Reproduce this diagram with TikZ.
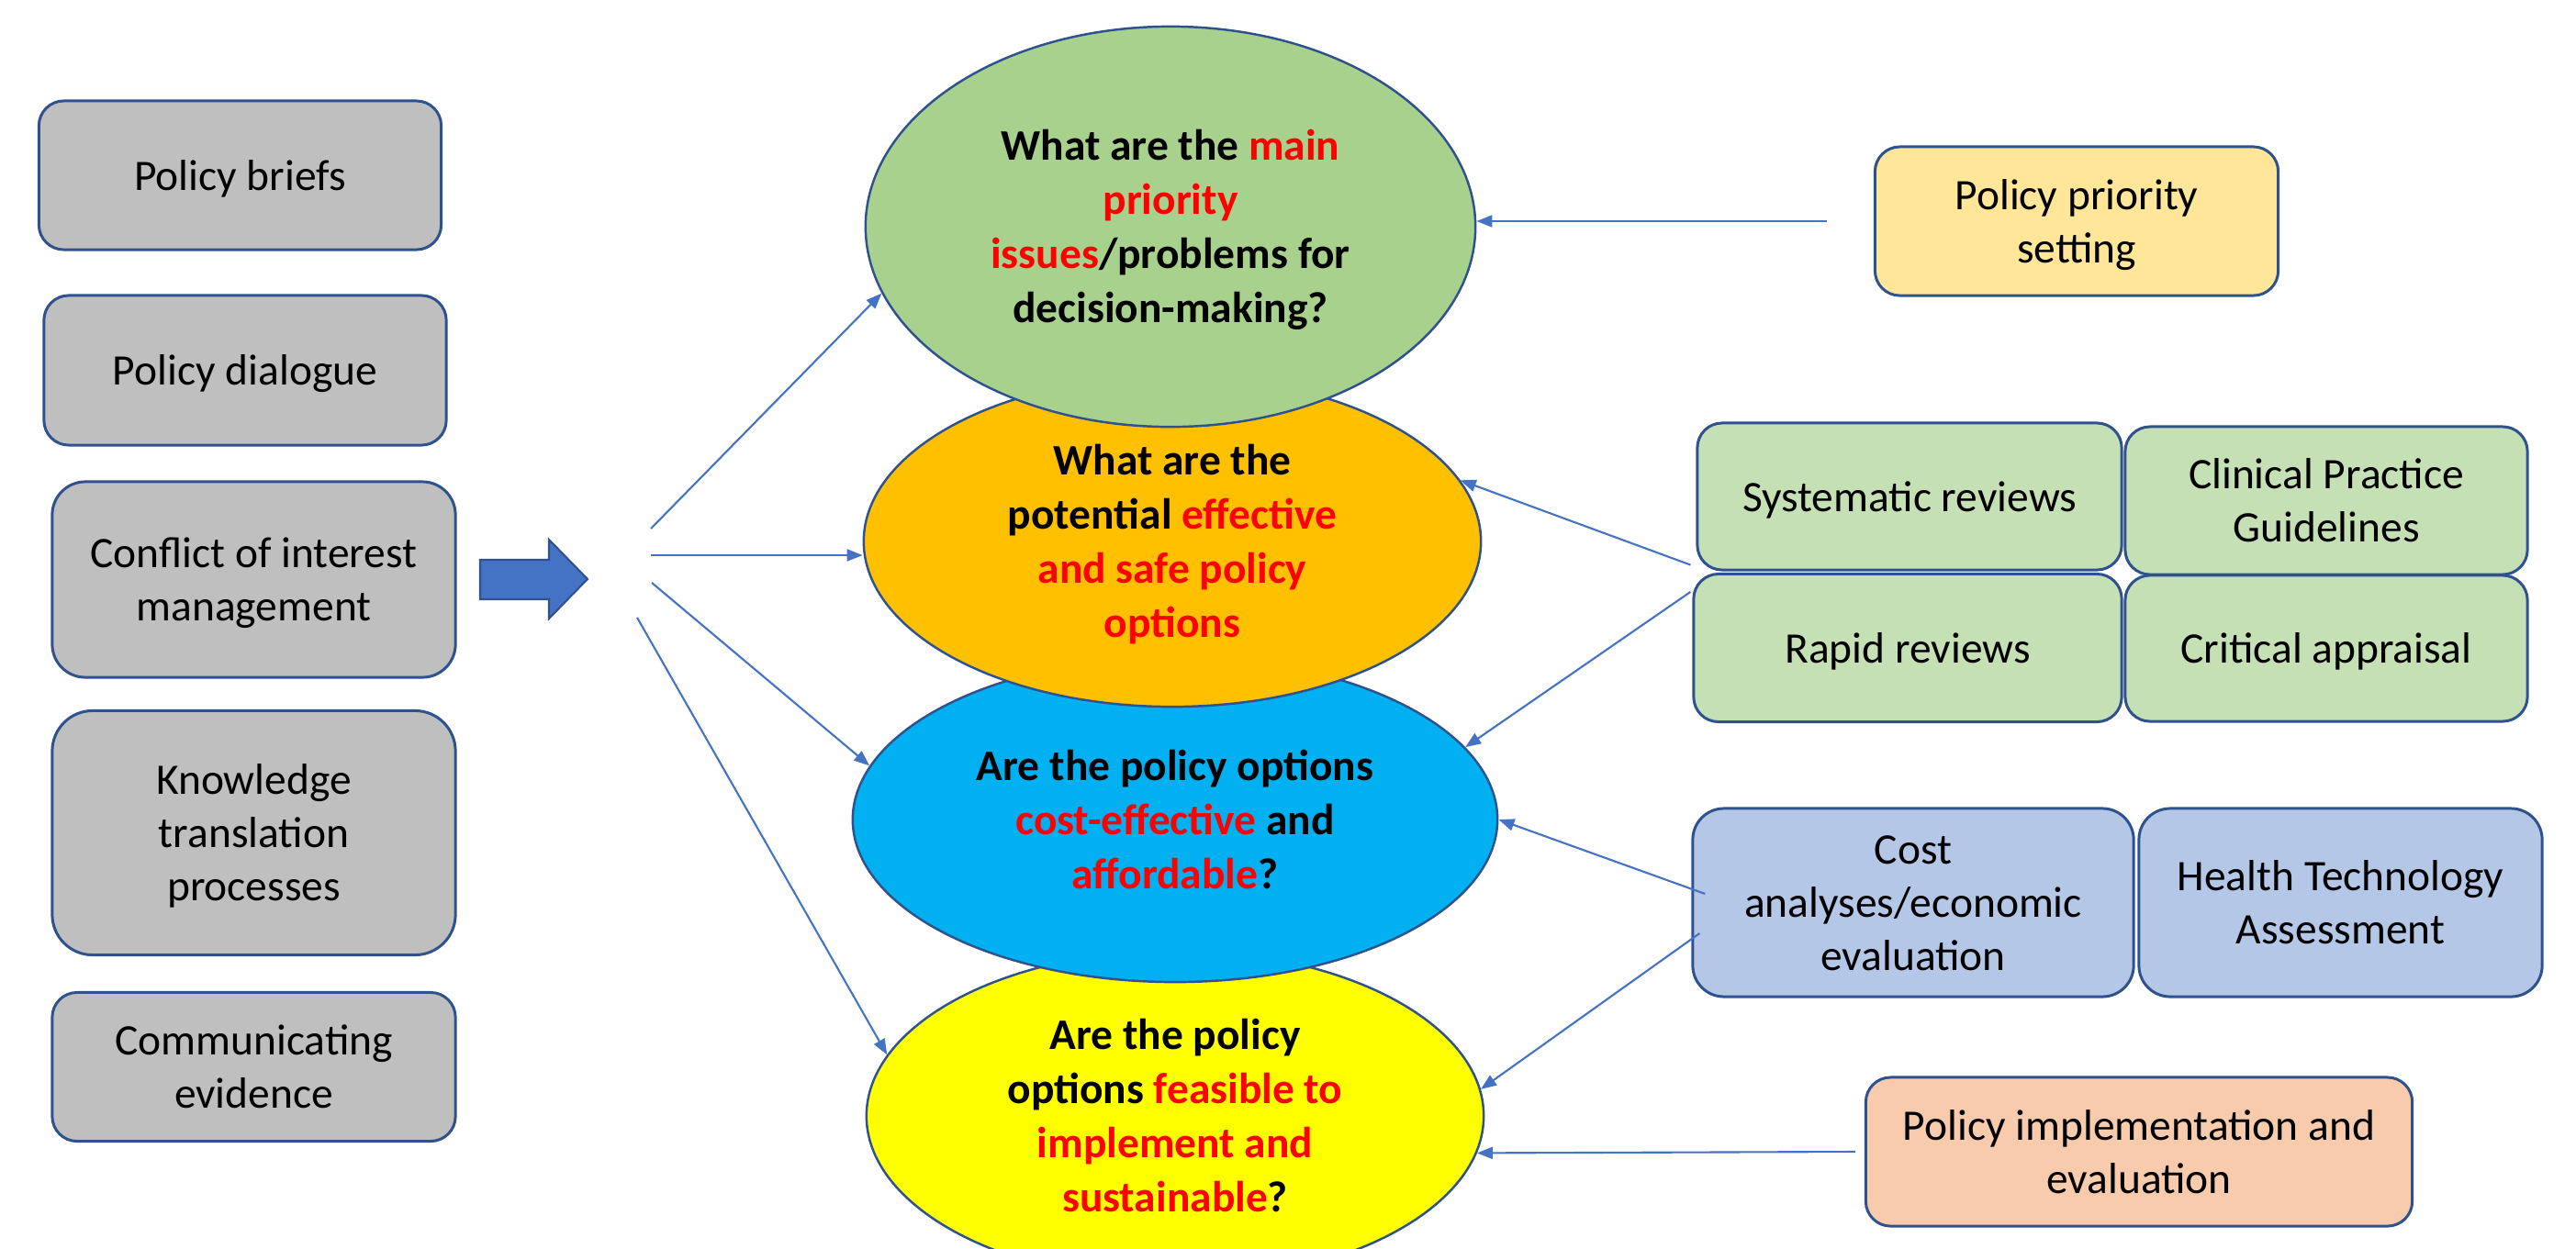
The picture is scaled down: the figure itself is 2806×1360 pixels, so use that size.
\documentclass[tikz,border=0pt]{standalone}
\usepackage{fontspec}
\setmainfont{Carlito}
\usetikzlibrary{arrows.meta,shapes.geometric,calc}
\definecolor{edgeblue}{HTML}{2F528F}
\definecolor{connblue}{HTML}{4472C4}
\definecolor{grayfill}{HTML}{BFBFBF}
\definecolor{qgreen}{HTML}{A9D18E}
\definecolor{qorange}{HTML}{FFC000}
\definecolor{qblue}{HTML}{00B0F0}
\definecolor{qyellow}{HTML}{FFFF00}
\definecolor{prioyellow}{HTML}{FFE699}
\definecolor{evgreen}{HTML}{C5E0B4}
\definecolor{evblue}{HTML}{B4C7E7}
\definecolor{implpeach}{HTML}{F8CBAD}
\definecolor{hired}{HTML}{FF0000}
\newcommand{\redtxt}[1]{\textcolor{hired}{#1}}
\newcommand{\strA}{\rule{0pt}{12.85pt}}
\newcommand{\strB}{\rule[-3.63pt]{0pt}{3.63pt}}
\begin{document}
\begin{tikzpicture}[x=0.01cm,y=-0.01cm,
  font=\fontsize{13.5}{16.5}\selectfont,
  box/.style={draw=edgeblue, line width=0.85pt, rounded corners=0.27cm, align=center, inner sep=0pt},
  quest/.style={ellipse, draw=edgeblue, line width=0.7pt, align=center, inner sep=0pt,
     font=\fontsize{13.5}{16.8}\selectfont\bfseries},
  arr/.style={draw=connblue, line width=0.6pt, -{Triangle[length=0.17cm,width=0.13cm]}}]
\useasboundingbox (0,0) rectangle (2806,1360);
\clip (0,0) rectangle (2806,1360);

% left boxes
\node[box, fill=grayfill, minimum width=4.38cm, minimum height=1.62cm] (pb) at (261.5,191) {\strA Policy briefs\strB};
\node[box, fill=grayfill, minimum width=4.38cm, minimum height=1.63cm] (pd) at (267,403.5) {\strA Policy dialogue\strB};
\node[box, fill=grayfill, minimum width=4.39cm, minimum height=2.13cm, rounded corners=0.36cm] (coi) at (276.5,631.5) {\strA Conflict of interest\\management\strB};
\node[box, fill=grayfill, minimum width=4.39cm, minimum height=2.66cm, rounded corners=0.44cm] (ktp) at (276.5,907.5) {\strA Knowledge\\translation\\processes\strB};
\node[box, fill=grayfill, minimum width=4.39cm, minimum height=1.62cm] (ce) at (276.5,1162.5) {\strA Communicating\\evidence\strB};

% block arrow
\filldraw[fill=connblue, draw=edgeblue, line width=0.6pt] (523,610) -- (598,610) -- (598,588) -- (640,631) -- (598,674) -- (598,653) -- (523,653) -- cycle;

% question ellipses (bottom to top)
\node[quest, fill=qyellow, minimum width=6.72cm, minimum height=3.60cm] (qy) at (1280,1216)
  {\strA Are the policy\\options \redtxt{feasible to}\\\redtxt{implement and}\\\redtxt{sustainable}?\strB};
\node[quest, fill=qblue, minimum width=7.02cm, minimum height=3.54cm] (qb) at (1280,893)
  {\strA Are the policy options\\\redtxt{cost-effective} and\\\redtxt{affordable}?\strB};
\node[quest, fill=qorange, minimum width=6.72cm, minimum height=3.60cm] (qo) at (1277,590)
  {\strA What are the\\potential \redtxt{effective}\\\redtxt{and safe policy}\\\redtxt{options}\strB};
\node[quest, fill=qgreen, minimum width=6.64cm, minimum height=4.36cm] (qg) at (1275,247)
  {\strA What are the \redtxt{main}\\\redtxt{priority}\\\redtxt{issues}/problems for\\decision-making?\strB};

% right boxes
\node[box, fill=prioyellow, minimum width=4.39cm, minimum height=1.62cm] (prio) at (2262,241) {\strA Policy priority\\setting\strB};
\node[box, fill=evgreen, minimum width=4.62cm, minimum height=1.60cm] (sys) at (2080,541) {\strA Systematic reviews\strB};
\node[box, fill=evgreen, minimum width=4.38cm, minimum height=1.61cm] (cpg) at (2534,545.5) {\strA Clinical Practice\\Guidelines\strB};
\node[box, fill=evgreen, minimum width=4.66cm, minimum height=1.61cm] (rr) at (2078,706) {\strA Rapid reviews\strB};
\node[box, fill=evgreen, minimum width=4.38cm, minimum height=1.59cm] (ca) at (2534,706.5) {\strA Critical appraisal\strB};
\node[box, fill=evblue, minimum width=4.80cm, minimum height=2.05cm, rounded corners=0.34cm] (cost) at (2084,983.5) {\strA Cost\\analyses/economic\\evaluation\strB};
\node[box, fill=evblue, minimum width=4.39cm, minimum height=2.05cm, rounded corners=0.34cm] (hta) at (2549.5,983.5) {\strA Health Technology\\Assessment\strB};
\node[box, fill=implpeach, minimum width=5.95cm, minimum height=1.62cm] (impl) at (2330,1255) {\strA Policy implementation and\\evaluation\strB};

% fan of arrows from the block arrow
\coordinate (f1) at (709,576);
\coordinate (f2) at (709,605);
\coordinate (f3) at (710,635);
\coordinate (f4) at (694,673);
\draw[arr] (f1) -- (qg.193);
\draw[arr] (f2) -- (f2 -| qo.west);
\draw[arr] (f3) -- (qb.170);
\draw[arr] (f4) -- (qy.168.4);

% arrows from the right
\draw[arr] ($(prio.west)+(-51,0)$) -- (prio.west -| qg.east);
\draw[arr] ($(sys.south west)+(-6,-7)$) -- (qo.12);
\draw[arr] ($(rr.north west)+(-2,21)$) -- (qb.14);
\draw[arr] ($(cost.west)+(15,-9.5)$) -- (qb.east);
\draw[arr] ($(cost.west)+(9,33.5)$) -- (qy.5.6);
\draw[arr] ($(impl.west)+(-10,0)$) -- (qy.353.2);
\end{tikzpicture}
\end{document}
